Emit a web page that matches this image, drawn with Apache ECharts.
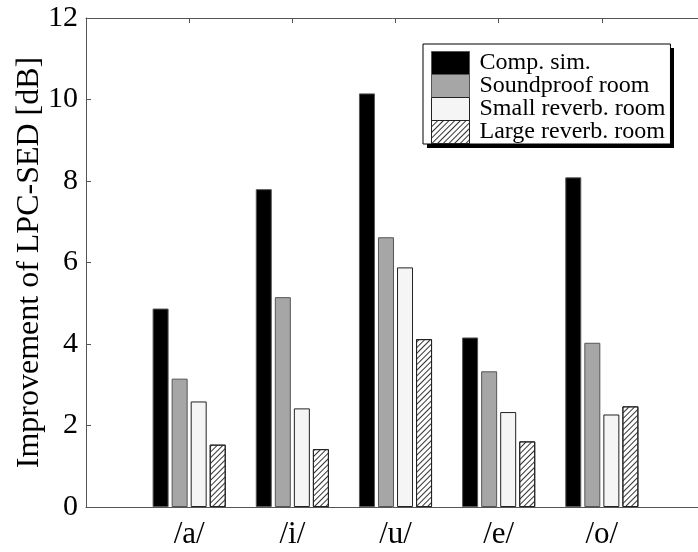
<!DOCTYPE html>
<html>
<head>
<meta charset="utf-8">
<style>
  html, body { margin: 0; padding: 0; background: #fff; }
  #chart { width: 698px; height: 552px; }
</style>
<script src="https://cdn.jsdelivr.net/npm/echarts@6/dist/echarts.min.js"></script>
</head>
<body>
<div id="chart"></div>
<script>
// vowels, with empty slots at both ends as in the original x range
const categories = ['', '/a/', '/i/', '/u/', '/e/', '/o/', '']
const seriesNames = ['Comp. sim.', 'Soundproof room', 'Small reverb. room', 'Large reverb. room']
const compSim = ['-', 4.87, 7.80, 10.15, 4.16, 8.09, '-']
const soundproof = ['-', 3.15, 5.15, 6.62, 3.33, 4.03, '-']
const smallReverb = ['-', 2.59, 2.42, 5.88, 2.33, 2.27, '-']
const largeReverb = ['-', 1.53, 1.42, 4.12, 1.61, 2.47, '-']
const yTicks = [0, 2, 4, 6, 8, 10, 12]

const serif = 'Liberation Serif'
const axisColor = '#555'

const chart = echarts.init(document.getElementById('chart'))

function barSeries(name, data, color, borderColor, decal) {
  const itemStyle = { color: color, borderColor: borderColor, borderWidth: 1 }
  if (decal) itemStyle.decal = decal
  return {
    name: name,
    type: 'bar',
    data: data,
    barWidth: 16,
    barGap: '19%',
    itemStyle: itemStyle
  }
}

const hatch = {
  symbol: 'rect',
  symbolSize: 1,
  dashArrayX: [1, 0],
  dashArrayY: [1, 2.5],
  rotation: -Math.PI / 4,
  color: '#333'
}

chart.setOption({
  animation: false,
  backgroundColor: '#fff',
  grid: {
    left: 86,
    right: -7,
    top: 18,
    bottom: 45,
    outerBoundsMode: 'none'
  },
  // drop shadow behind the legend box
  graphic: [{
    type: 'rect',
    left: 427,
    top: 48,
    z: 0,
    shape: { width: 247, height: 100 },
    style: { fill: '#000' }
  }],
  legend: {
    orient: 'vertical',
    left: 423,
    top: 44,
    z: 10,
    padding: [7, 5, 0, 8],
    itemGap: -1,
    itemWidth: 38,
    itemHeight: 23,
    icon: 'rect',
    backgroundColor: '#fff',
    borderColor: '#000',
    borderWidth: 1,
    borderRadius: 0,
    itemStyle: { borderWidth: 1 },
    textStyle: {
      fontFamily: serif,
      fontSize: 24,
      lineHeight: 23,
      color: '#000',
      padding: [0, 0, 0, 5]
    },
    data: seriesNames
  },
  xAxis: [
    {
      type: 'category',
      data: categories,
      boundaryGap: false,
      axisLine: { lineStyle: { color: axisColor, width: 1 } },
      axisTick: { show: false },
      axisLabel: {
        fontFamily: serif,
        fontSize: 31,
        color: '#000',
        margin: 12,
        interval: 0
      },
      splitLine: { show: false }
    },
    {
      type: 'category',
      position: 'top',
      data: categories,
      boundaryGap: false,
      axisLine: { lineStyle: { color: axisColor, width: 1 } },
      axisTick: {
        inside: true,
        length: 5,
        interval: (idx, val) => val !== '',
        lineStyle: { color: axisColor }
      },
      axisLabel: { show: false },
      splitLine: { show: false }
    }
  ],
  yAxis: {
    type: 'value',
    min: yTicks[0],
    max: yTicks[yTicks.length - 1],
    interval: 2,
    name: 'Improvement of LPC-SED [dB]',
    nameLocation: 'middle',
    nameGap: 40,
    nameMoveOverlap: false,
    nameTextStyle: { fontFamily: serif, fontSize: 32, color: '#000' },
    axisLine: { show: true, lineStyle: { color: axisColor, width: 1 } },
    axisTick: { show: true, inside: true, length: 5, lineStyle: { color: axisColor } },
    axisLabel: { fontFamily: serif, fontSize: 30, color: '#000', margin: 8 },
    splitLine: { show: false }
  },
  series: [
    barSeries(seriesNames[0], compSim, '#000', '#555'),
    barSeries(seriesNames[1], soundproof, '#a6a6a6', '#555'),
    barSeries(seriesNames[2], smallReverb, '#f5f5f5', '#222'),
    barSeries(seriesNames[3], largeReverb, '#fff', '#222', hatch)
  ]
})
</script>
</body>
</html>
